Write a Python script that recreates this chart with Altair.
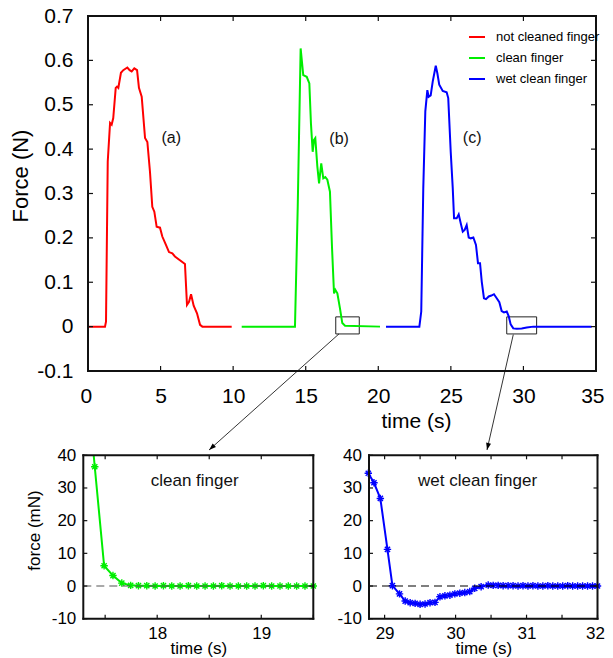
import math
import altair as alt
import pandas as pd

# ---------------- data ----------------
series_names = ["not cleaned finger", "clean finger", "wet clean finger"]
series_colors = ["#ff0000", "#00ee00", "#0000ff"]

red_t = [0, 1.17, 1.24, 1.36, 1.52, 1.63, 1.74, 1.91, 2.00, 2.09, 2.27, 2.43, 2.71, 2.87, 3.01,
         3.19, 3.38, 3.51, 3.70, 3.93, 4.09, 4.27, 4.43, 4.57, 4.73, 4.96, 5.12, 5.37, 5.58,
         5.81, 5.99, 6.68, 6.82, 6.96, 7.10, 7.28, 7.51, 7.72, 7.88, 9.90]
red_f = [0, 0, 0.011, 0.372, 0.459, 0.455, 0.470, 0.538, 0.541, 0.538, 0.572, 0.578, 0.584, 0.578,
         0.575, 0.582, 0.578, 0.538, 0.518, 0.425, 0.416, 0.349, 0.270, 0.259, 0.225, 0.223,
         0.203, 0.184, 0.168, 0.165, 0.158, 0.141, 0.049, 0.056, 0.073, 0.047, 0.030, 0.004, 0, 0]

green_t = [10.59, 14.26, 14.45, 14.65, 14.83, 15.07, 15.25, 15.36, 15.48, 15.57, 15.66, 15.80,
           15.92, 16.07, 16.21, 16.35, 16.49, 16.67, 16.81, 16.95, 17.04, 17.18, 17.36, 17.52,
           17.71, 20.12]
green_f = [0, 0, 0.270, 0.627, 0.567, 0.563, 0.548, 0.458, 0.394, 0.421, 0.425, 0.361, 0.323,
           0.368, 0.334, 0.337, 0.331, 0.304, 0.180, 0.075, 0.083, 0.075, 0.041, 0.008, 0.002, 0]

blue_t = [20.53, 22.83, 22.96, 23.10, 23.24, 23.38, 23.47, 23.61, 23.75, 23.96, 24.07, 24.20,
          24.44, 24.71, 24.82, 24.99, 25.13, 25.22, 25.40, 25.54, 25.68, 25.82, 25.95, 26.09,
          26.23, 26.37, 26.55, 26.73, 26.87, 27.01, 27.13, 27.28, 27.42, 27.61, 27.79, 27.97,
          28.16, 28.34, 28.50, 28.66, 28.85, 28.99, 29.12, 29.30, 29.54, 29.88, 30.23, 30.68, 34.7]
blue_f = [0, 0, 0.034, 0.312, 0.485, 0.533, 0.518, 0.521, 0.552, 0.588, 0.571, 0.545, 0.531,
          0.528, 0.515, 0.394, 0.312, 0.244, 0.244, 0.253, 0.233, 0.214, 0.218, 0.229, 0.201,
          0.199, 0.201, 0.184, 0.143, 0.143, 0.101, 0.064, 0.062, 0.068, 0.070, 0.073, 0.064,
          0.055, 0.035, 0.032, 0.034, 0.023, 0.005, -0.004, -0.005, -0.004, -0.002, 0, 0]

in1_t = [17.39, 17.40, 17.49, 17.575, 17.66, 17.745, 17.82, 17.90, 17.98, 18.06, 18.14, 18.22,
         18.30, 18.38, 18.46, 18.54, 18.62, 18.70, 18.78, 18.86, 18.94, 19.02, 19.10, 19.18,
         19.26, 19.34, 19.42, 19.50]
in1_f = [40, 36.5, 6.2, 3.2, 0.9, 0.2, 0.1, 0.1, 0.0, 0.1, 0.0, 0.0, 0.1, 0.0, 0.0, 0.0, 0.1,
         0.0, 0.0, 0.0, 0.0, 0.1, 0.0, 0.0, 0.0, 0.0, 0.0, 0.0]

in2_t = [28.77, 28.85, 28.94, 29.04, 29.11, 29.21, 29.29, 29.36, 29.43, 29.50, 29.57, 29.64,
         29.71, 29.78, 29.85, 29.92, 29.99, 30.06, 30.13, 30.20, 30.27, 30.36, 30.46, 30.53,
         30.60, 30.67, 30.74, 30.81, 30.88, 30.95, 31.02, 31.09, 31.16, 31.23, 31.30, 31.37,
         31.44, 31.51, 31.58, 31.65, 31.72, 31.79, 31.86, 31.93, 32.00]
in2_f = [34.5, 31.6, 26.8, 11.2, 0.1, -2.4, -4.6, -5.1, -5.3, -5.6, -5.5, -5.1, -5.0, -3.3, -3.0,
         -2.8, -2.4, -2.2, -2.0, -1.7, -0.7, -0.2, 0.3, 0.2, 0.2, 0.1, 0.1, 0.1, 0.0, 0.1, 0.0,
         0.1, 0.0, 0.0, 0.1, 0.0, 0.0, 0.0, 0.1, 0.0, 0.0, 0.0, 0.0, 0.0, 0.0]

panel_labels = ["(a)", "(b)", "(c)"]
panel_label_t = [5.74, 17.30, 26.47]
panel_label_f = [0.425, 0.422, 0.425]

box_x1 = [17.07, 28.85]
box_x2 = [18.69, 30.91]
box_y1 = [-0.0165, -0.0165]
box_y2 = [0.022, 0.022]

arrow_x1 = [17.29, 29.30]
arrow_y1 = [-0.0165, -0.018]
arrow_x2 = [8.34, 27.49]
arrow_y2 = [-0.278, -0.278]

top_x_ticks = [0, 5, 10, 15, 20, 25, 30, 35]
top_y_ticks = [-0.1, 0, 0.1, 0.2, 0.3, 0.4, 0.5, 0.6, 0.7]
in1_x_ticks = [17.5, 18, 18.5, 19, 19.5]
in2_x_ticks = [29, 29.5, 30, 30.5, 31, 31.5, 32]
in_y_ticks = [-10, 0, 10, 20, 30, 40]

# ---------------- layout ----------------
W, H = 597, 650
TOP = {"l": 80, "r": 588, "t": 8, "b": 363}
IN1 = {"l": 75.3, "r": 305.3, "t": 447.3, "b": 610.7}
IN2 = {"l": 361.0, "r": 589.5, "t": 447.3, "b": 610.7}
top_xdom, top_ydom = [0.0, 35.0], [-0.1, 0.7]
in1_xdom, in2_xdom, in_ydom = [17.29, 19.5], [28.78, 32.0], [-10.0, 40.0]

FONT = "Liberation Sans"
INK = "#111111"
NUM = "replace(format(datum.value, '~g'), '\u2212', '-')"
INT_ONLY = "datum.value % 1 == 0 ? format(datum.value, 'd') : ''"


def xs(dom, b):
    return alt.Scale(domain=dom, range=[b["l"], b["r"]], nice=False, zero=False)


def ys(dom, b):
    return alt.Scale(domain=dom, range=[b["b"], b["t"]], nice=False, zero=False)


def xlab(b, vals, fs, pad, expr, title, tfs, tx, ty, flush_off=0):
    kw = dict(orient="bottom", offset=b["b"] - H, values=vals, domain=False,
              ticks=False, grid=False, labelPadding=pad, labelFont=FONT, labelFontSize=fs,
              labelColor="black", labelOverlap=False, labelExpr=expr,
              title=title, titleFont=FONT, titleFontSize=tfs, titleFontWeight="normal",
              titleColor="black", titleX=tx, titleY=ty, titleAlign="center",
              titleBaseline="top", titleAngle=0)
    if flush_off:
        kw.update(labelFlush=1, labelFlushOffset=flush_off)
    else:
        kw.update(labelFlush=False)
    return alt.Axis(**kw)


def ylab(b, vals, fs, pad, title=None, tfs=12, tx=0, ty=0):
    kw = dict(orient="left", offset=-b["l"], values=vals, domain=False,
              ticks=False, grid=False,
              labelPadding=pad, labelFont=FONT, labelFontSize=fs, labelColor="black",
              labelFlush=False, labelOverlap=False, labelExpr=NUM)
    if title:
        kw.update(title=title, titleFont=FONT, titleFontSize=tfs, titleFontWeight="normal",
                  titleColor="black", titleX=tx, titleY=ty, titleAlign="center",
                  titleBaseline="bottom", titleAngle=270)
    else:
        kw["title"] = None
    return alt.Axis(**kw)


def frame_fill(box, xt, yt, tick_px, SX, SY):
    """Frame as four filled strips, ticks as filled tick marks placed through the scales."""
    one = pd.DataFrame({"k": [0]})
    l, r, t, b = box["l"], box["r"], box["t"], box["b"]
    strips = [(l - 1, r + 1, t - 1, t + 1), (l - 1, r + 1, b - 1, b + 1),
              (l - 1, l + 1, t - 1, b + 1), (r - 1, r + 1, t - 1, b + 1)]
    layers = []
    for x0, x1, y0, y1 in strips:
        layers.append(alt.Chart(one).mark_rect(color=INK, opacity=1).encode(
            x=alt.value(x0), x2=alt.value(x1), y=alt.value(y0), y2=alt.value(y1)))
    xdf = pd.DataFrame({"v": xt})
    ydf = pd.DataFrame({"v": yt})
    for yc in [b - tick_px / 2, t + tick_px / 2]:
        layers.append(alt.Chart(xdf).mark_tick(orient="vertical", size=tick_px, thickness=1.2,
                                               color=INK, opacity=1).encode(
            x=alt.X("v:Q", scale=SX(), axis=None), y=alt.value(yc)))
    for xc in [l + tick_px / 2, r - tick_px / 2]:
        layers.append(alt.Chart(ydf).mark_tick(orient="horizontal", size=tick_px, thickness=1.2,
                                               color=INK, opacity=1).encode(
            y=alt.Y("v:Q", scale=SY(), axis=None), x=alt.value(xc)))
    return layers


# ---------------- top panel ----------------
rows = []
for name, ts, fs in zip(series_names, [red_t, green_t, blue_t], [red_f, green_f, blue_f]):
    for i, (t, f) in enumerate(zip(ts, fs)):
        rows.append({"series": name, "t": t, "f": f, "i": i})
top_df = pd.DataFrame(rows)

TX = lambda: xs(top_xdom, TOP)
TY = lambda: ys(top_ydom, TOP)

top_line = alt.Chart(top_df).mark_line(strokeWidth=2).encode(
    x=alt.X("t:Q", scale=TX(),
            axis=xlab(TOP, top_x_ticks, 21, 14, NUM, "time (s)", 21, 408, 39.5, 8)),
    y=alt.Y("f:Q", scale=TY(),
            axis=ylab(TOP, top_y_ticks, 21, 15, "Force (N)", 22, -56, 167.5)),
    color=alt.Color("series:N",
                    scale=alt.Scale(domain=series_names, range=series_colors),
                    legend=alt.Legend(orient="none", legendX=460, legendY=20, title=None,
                                      symbolType="stroke", symbolSize=256,
                                      symbolStrokeWidth=2, labelFont=FONT,
                                      labelFontSize=13, labelColor="black", labelOffset=10,
                                      rowPadding=5, padding=0, labelLimit=0)),
    order="i:Q",
)

top_frame = frame_fill(TOP, top_x_ticks, top_y_ticks, 5, TX, TY)

boxes_df = pd.DataFrame({"x1": box_x1, "x2": box_x2, "y1": box_y1, "y2": box_y2})
top_boxes = alt.Chart(boxes_df).mark_rect(fillOpacity=0, stroke="#222222", strokeWidth=1).encode(
    x=alt.X("x1:Q", scale=TX(), axis=None),
    x2="x2:Q",
    y=alt.Y("y1:Q", scale=TY(), axis=None),
    y2="y2:Q",
)

labels_df = pd.DataFrame({"lab": panel_labels, "t": panel_label_t, "f": panel_label_f})
top_text = alt.Chart(labels_df).mark_text(font=FONT, fontSize=16, color="#111111").encode(
    x=alt.X("t:Q", scale=TX(), axis=None),
    y=alt.Y("f:Q", scale=TY(), axis=None),
    text="lab:N",
)

kx = (TOP["r"] - TOP["l"]) / (top_xdom[1] - top_xdom[0])
ky = (TOP["b"] - TOP["t"]) / (top_ydom[1] - top_ydom[0])
angles = []
for a, b_, c, d in zip(arrow_x1, arrow_y1, arrow_x2, arrow_y2):
    dx_ = (c - a) * kx
    dy_ = -(d - b_) * ky
    angles.append(math.degrees(math.atan2(-dx_, dy_)) % 360)
arrows_df = pd.DataFrame({"x1": arrow_x1, "y1": arrow_y1, "x2": arrow_x2, "y2": arrow_y2,
                          "ang": angles})
top_arrows = alt.Chart(arrows_df).mark_rule(color="black", strokeWidth=0.8).encode(
    x=alt.X("x1:Q", scale=TX(), axis=None),
    y=alt.Y("y1:Q", scale=TY(), axis=None),
    x2="x2:Q",
    y2="y2:Q",
)
top_heads = alt.Chart(arrows_df).mark_point(
    shape="M0,0L-0.35,-1L0.35,-1Z", filled=True, color="black", size=200, opacity=1
).encode(
    x=alt.X("x2:Q", scale=TX(), axis=None),
    y=alt.Y("y2:Q", scale=TY(), axis=None),
    angle=alt.Angle("ang:Q", scale=None),
)

# ---------------- insets ----------------
STAR = "M-1,0L1,0M0,-1L0,1M-0.7,-0.7L0.7,0.7M-0.7,0.7L0.7,-0.7"


def inset(ts, fs, xdom, box, xticks, color, zero_color, title_text, title_t, ytitle, flush):
    df = pd.DataFrame({"t": ts, "f": fs})
    SX = lambda: xs(xdom, box)
    SY = lambda: ys(in_ydom, box)
    cx = (box["l"] + box["r"]) / 2
    if ytitle:
        yax = ylab(box, in_y_ticks, 17, 7.5, "force  (mN)", 17, 35 - box["l"], 522)
    else:
        yax = ylab(box, in_y_ticks, 17, 7.5)
    line = alt.Chart(df).mark_line(color=color, strokeWidth=2).encode(
        x=alt.X("t:Q", scale=SX(),
                axis=xlab(box, xticks, 17, 7, INT_ONLY, "time (s)", 17, cx, 22, flush)),
        y=alt.Y("f:Q", scale=SY(), axis=yax),
    )
    pts = alt.Chart(df).transform_filter("datum.f < 39").mark_point(
        shape=STAR, filled=False, color=color, size=55, strokeWidth=1.4, opacity=1
    ).encode(
        x=alt.X("t:Q", scale=SX(), axis=None),
        y=alt.Y("f:Q", scale=SY(), axis=None),
    )
    zero_df = pd.DataFrame({"x1": [xdom[0]], "x2": [xdom[1]], "y": [0.0]})
    zero = alt.Chart(zero_df).mark_rule(color=zero_color, strokeWidth=1.2,
                                        strokeDash=[8, 5]).encode(
        x=alt.X("x1:Q", scale=SX(), axis=None),
        x2="x2:Q",
        y=alt.Y("y:Q", scale=SY(), axis=None),
    )
    tdf = pd.DataFrame({"lab": [title_text], "t": [title_t], "f": [32.0]})
    txt = alt.Chart(tdf).mark_text(font=FONT, fontSize=17, color="#111111",
                                   baseline="middle").encode(
        x=alt.X("t:Q", scale=SX(), axis=None),
        y=alt.Y("f:Q", scale=SY(), axis=None),
        text="lab:N",
    )
    return [line, pts, zero, txt] + frame_fill(box, xticks, in_y_ticks, 4, SX, SY)


in1_layers = inset(in1_t, in1_f, in1_xdom, IN1, in1_x_ticks, "#00ee00", "#555555",
                   "clean finger", 18.36, True, 0)
in2_layers = inset(in2_t, in2_f, in2_xdom, IN2, in2_x_ticks, "#0000ff", "#000000",
                   "wet clean finger", 30.31, False, 7)

chart = alt.layer(
    top_boxes, top_line, top_text, top_arrows, top_heads, *top_frame,
    *in1_layers, *in2_layers,
).resolve_scale(
    x="independent", y="independent", color="independent", angle="independent"
).resolve_axis(
    x="independent", y="independent"
).properties(
    width=W, height=H, padding=0, background="white",
    autosize=alt.AutoSizeParams(type="none"),
).configure_view(stroke=None)

chart.save("out.html", embed_options={"renderer": "svg", "actions": False})
